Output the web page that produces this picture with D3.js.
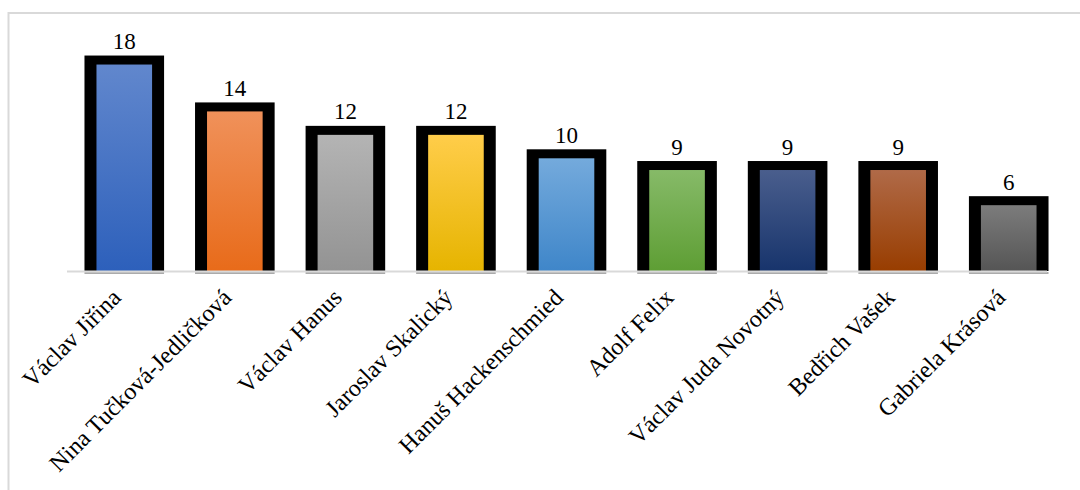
<!DOCTYPE html>
<html>
<head>
<meta charset="utf-8">
<script src="https://cdn.jsdelivr.net/npm/d3@7/dist/d3.min.js"></script>
<style>
  body { margin: 0; background: #fff; }
  svg { display: block; }
  text { font-family: "Liberation Serif", "Times New Roman", serif; fill: #000; }
</style>
</head>
<body>
<svg id="chart" width="1080" height="490"></svg>
<script>
const names = ['Václav Jiřina', 'Nina Tučková-Jedličková', 'Václav Hanus', 'Jaroslav Skalický',
  'Hanuš Hackenschmied', 'Adolf Felix', 'Václav Juda Novotný', 'Bedřich Vašek', 'Gabriela Krásová'];
const counts = [18, 14, 12, 12, 10, 9, 9, 9, 6];
const topColors = ['#6187cd', '#f0915a', '#b4b4b4', '#ffcd4a', '#74aadc', '#86ba68', '#4a5e8d', '#b06a48', '#7c7c7c'];
const bottomColors = ['#2d60bb', '#e86b1a', '#939393', '#e6b400', '#3f86c9', '#5e9e34', '#17346c', '#983d00', '#555555'];

const svg = d3.select('#chart');

// chart frame
svg.append('rect')
  .attr('x', 8.5).attr('y', 13).attr('width', 1100).attr('height', 500)
  .attr('fill', 'none').attr('stroke', '#d9d9d9').attr('stroke-width', 2);

const base = 271;
const x = d3.scaleBand().domain(names).range([69, 1064]).paddingInner(0.28).paddingOuter(0.14);
const y = d3.scaleLinear().domain([0, 20]).range([base, base - 234.4]);

const defs = svg.append('defs');
names.forEach((n, i) => {
  const g = defs.append('linearGradient').attr('id', 'g' + i)
    .attr('x1', 0).attr('y1', 0).attr('x2', 0).attr('y2', 1);
  g.append('stop').attr('offset', '0%').attr('stop-color', topColors[i]);
  g.append('stop').attr('offset', '100%').attr('stop-color', bottomColors[i]);
});

const bw = x.bandwidth();
const side = 12, topW = 9;

const bars = svg.append('g').selectAll('g').data(names).join('g');

bars.append('rect')
  .attr('x', d => x(d))
  .attr('y', (d, i) => y(counts[i]) - topW / 2)
  .attr('width', bw)
  .attr('height', (d, i) => base - y(counts[i]) + topW / 2)
  .attr('fill', '#000');

bars.append('rect')
  .attr('x', d => x(d) + side)
  .attr('y', (d, i) => y(counts[i]) + topW / 2)
  .attr('width', bw - 2 * side)
  .attr('height', (d, i) => base - y(counts[i]) - topW / 2)
  .attr('fill', (d, i) => `url(#g${i})`);

// axis line
svg.append('line')
  .attr('x1', 67).attr('x2', 1047).attr('y1', base + 0.5).attr('y2', base + 0.5)
  .attr('stroke', '#d9d9d9').attr('stroke-width', 2);
bars.append('line')
  .attr('x1', d => x(d)).attr('x2', d => x(d) + bw)
  .attr('y1', base + 2).attr('y2', base + 2)
  .attr('stroke', '#595959').attr('stroke-width', 1);

// value labels
bars.append('text')
  .attr('x', d => x(d) + bw / 2)
  .attr('y', (d, i) => y(counts[i]) - 11)
  .attr('text-anchor', 'middle')
  .attr('font-size', 23)
  .text((d, i) => counts[i]);

// category labels
bars.append('text')
  .attr('transform', d => `translate(${x(d) + bw / 2 - 2},${base + 28}) rotate(-45)`)
  .attr('text-anchor', 'end')
  .attr('font-size', 24)
  .text(d => d);
</script>
</body>
</html>
